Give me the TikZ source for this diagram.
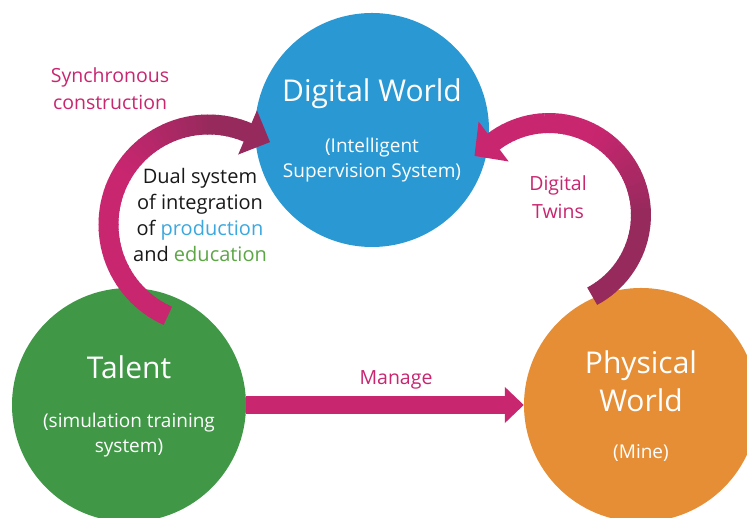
\documentclass[tikz,border=0pt]{standalone}
\usepackage{fontspec}
\setmainfont{Open Sans}
\usetikzlibrary{arrows.meta,calc}

\definecolor{worldblue}{HTML}{2A99D3}
\definecolor{talentgreen}{HTML}{409847}
\definecolor{mineorange}{HTML}{E68E35}
\definecolor{arrowpink}{HTML}{C92670}
\definecolor{arrowdark}{HTML}{972A5D}
\definecolor{prodblue}{HTML}{3BA8E0}
\definecolor{edugreen}{HTML}{5CA646}

\tikzset{
  world/.style={circle, minimum size=234pt, inner sep=0pt},
  bigtext/.style={text=white, align=center, font=\fontsize{30}{38}\selectfont},
  subtext/.style={text=white, align=center, font=\fontsize{19}{25}\selectfont},
  arrowtext/.style={text=arrowpink, align=center, font=\fontsize{19.5}{27}\selectfont},
  bandline/.style={line width=20pt}
}

\begin{document}
\begin{tikzpicture}[x=1pt, y=1pt]
      \useasboundingbox (0,0) rectangle (747,518) ;
      \fill[white] (0,0) rectangle (747,518) ;
      \clip (0,0) rectangle (747,518) ;
      % the three worlds
      \node[world, fill=worldblue] (digital) at (372,388) {} ;
      \node[world, fill=talentgreen] (talent) at (129,113) {} ;
      \node[world, fill=mineorange] (physical) at (641,113) {} ;
      \node[bigtext] (digitaltitle) at (372,424) {Digital World} ;
      \node[subtext] (digitalsub) at (372,358) {(Intelligent\\Supervision System)} ;
      \node[bigtext] (talenttitle) at (129,151) {Talent} ;
      \node[subtext] (talentsub) at (129,83) {(simulation training\\system)} ;
      \node[bigtext] (physicaltitle) at (641,137) {Physical\\World} ;
      \node[subtext] (physicalsub) at (641,65) {(Mine)} ;
      % manage arrow
      \draw[line width=18pt, arrowpink, -{Triangle[width=35pt,length=19pt]}] (talent.east) -- (physical.west) ;
      \node[arrowtext] (manage) at (396,138) {Manage} ;
      % synchronous construction arrow
      \coordinate (synccenter) at (208.5,293.5) ;
      \foreach \i in {0,...,59}{
        \pgfmathsetmacro\a{246-\i*179/60}
        \pgfmathsetmacro\b{\a-179/60-0.5}
        \pgfmathtruncatemacro\p{min(100,max(0,(\a-90)*100/60))}
        \draw[bandline, arrowpink!\p!arrowdark] ($(synccenter)+(\a:100)$) arc[start angle=\a, end angle=\b, radius=100] ;
      }
      \fill[arrowdark] ($(synccenter)+(67:76)$) -- ($(synccenter)+(53.25:102.8)$) -- ($(synccenter)+(67:124)$) -- cycle ;
      \node[arrowtext] (synclabel) at (110,429) {Synchronous\\construction} ;
      % digital twins arrow
      \coordinate (twincenter) at (549,303) ;
      \foreach \i in {0,...,59}{
        \pgfmathsetmacro\a{-62+\i*189/60}
        \pgfmathsetmacro\b{\a+189/60+0.5}
        \pgfmathtruncatemacro\p{min(100,max(0,\a*100/60))}
        \draw[bandline, arrowpink!\p!arrowdark] ($(twincenter)+(\a:92)$) arc[start angle=\a, end angle=\b, radius=92] ;
      }
      \fill[arrowpink] ($(twincenter)+(127:67)$) -- ($(twincenter)+(141.6:95.1)$) -- ($(twincenter)+(127:117)$) -- cycle ;
      \node[arrowtext, font=\fontsize{19.5}{28}\selectfont] (twinlabel) at (558,321) {Digital\\Twins} ;
      % dual system text
      \node[align=center, text=black!90, font=\fontsize{20}{25.7}\selectfont] (dualsystem) at (200,303)
        {Dual system\\of integration\\of \textcolor{prodblue}{production}\\and \textcolor{edugreen}{education}} ;
    \end{tikzpicture}
\end{document}
